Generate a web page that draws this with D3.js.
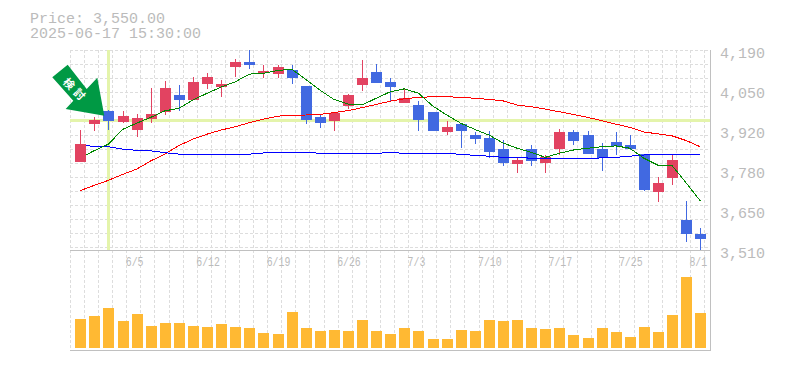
<!DOCTYPE html>
<html>
<head>
<meta charset="utf-8">
<script src="https://cdn.jsdelivr.net/npm/d3@7/dist/d3.min.js"></script>
<style>
    html, body { margin: 0; padding: 0; background: #fff; }
    svg { display: block; }
    text { font-family: "Liberation Mono", monospace; fill: #bbb; }
</style>
</head>
<body>
<div id="chart"></div>
<script>
// header text
const headerLines = ["Price: 3,550.00", "2025-06-17 15:30:00"];

// price axis labels, evenly spaced from top to bottom of the panel
const priceLabels = ["4,190", "4,050", "3,920", "3,780", "3,650", "3,510"];
const priceTicks = [4190, 4054, 3918, 3782, 3646, 3510];

// date labels and the candle they sit on
const dateLabels = ["6/5", "6/12", "6/19", "6/26", "7/3", "7/10", "7/17", "7/25", "8/1"];
const dateIndex = [4, 9, 14, 19, 24, 29, 34, 39, 44];

// marker
const markIndex = 2;
const markPrice = 3952;

// candles
const opens = [3809, 3938, 3983, 3945, 3918, 3955, 3979, 4037, 4020, 4074, 4064, 4132, 4149, 4112, 4108, 4122, 4068, 3962, 3949, 3999, 4071, 4115, 4081, 4010, 4003, 3979, 3911, 3938, 3901, 3891, 3853, 3802, 3853, 3806, 3853, 3911, 3901, 3853, 3877, 3867, 3836, 3707, 3755, 3612, 3564];
const highs = [3918, 3961, 3986, 3984, 3972, 4061, 4085, 4071, 4098, 4112, 4088, 4159, 4190, 4139, 4139, 4139, 4068, 3969, 3979, 4040, 4156, 4142, 4095, 4057, 4017, 3979, 3949, 3938, 3911, 3915, 3884, 3826, 3867, 3833, 3921, 3918, 3915, 3874, 3911, 3901, 3836, 3758, 3833, 3677, 3585];
const lows = [3809, 3916, 3918, 3942, 3895, 3943, 3969, 3984, 4020, 4057, 4030, 4098, 4125, 4095, 4095, 4074, 3938, 3925, 3915, 3989, 4051, 4078, 4013, 4010, 3915, 3915, 3901, 3857, 3870, 3823, 3796, 3772, 3796, 3772, 3833, 3867, 3836, 3779, 3833, 3850, 3711, 3673, 3731, 3537, 3510];
const closes = [3870, 3952, 3949, 3966, 3959, 3972, 4061, 4020, 4081, 4098, 4074, 4149, 4139, 4119, 4132, 4095, 3952, 3942, 3976, 4037, 4095, 4078, 4064, 4027, 3952, 3915, 3928, 3915, 3887, 3843, 3806, 3816, 3813, 3826, 3911, 3881, 3836, 3823, 3864, 3853, 3714, 3738, 3816, 3564, 3547];

// moving averages; the two shorter ones start a little before the second candle
const maStart = 0.43;
const greenLine = [3834, 3848, 3870, 3920, 3941, 3961, 3983, 3992, 4020, 4043, 4064, 4082, 4108, 4111, 4120, 4125, 4090, 4054, 4022, 4006, 4003, 4026, 4048, 4058, 4043, 4000, 3969, 3941, 3920, 3901, 3874, 3856, 3842, 3825, 3839, 3850, 3856, 3861, 3864, 3856, 3822, 3798, 3797, 3738, 3677];
const blueLine = [3864, 3863, 3861, 3853, 3849, 3847, 3841, 3836, 3835, 3835, 3835, 3835, 3836, 3840, 3841, 3843, 3842, 3839, 3839, 3839, 3839, 3839, 3841, 3839, 3839, 3839, 3839, 3835, 3832, 3829, 3825, 3825, 3822, 3822, 3822, 3822, 3822, 3823, 3825, 3829, 3833, 3836, 3836, 3836, 3836];
const redLine = [3712, 3730, 3747, 3767, 3785, 3813, 3836, 3865, 3887, 3904, 3918, 3929, 3943, 3955, 3965, 3968, 3969, 3971, 3977, 3984, 3994, 4005, 4016, 4024, 4029, 4031, 4031, 4029, 4026, 4022, 4017, 4003, 3997, 3989, 3980, 3971, 3961, 3950, 3938, 3927, 3911, 3905, 3898, 3882, 3861];

// volume bars, relative units
const volumes = [29, 32, 40, 27, 34, 22, 25, 25, 22, 21, 24, 21, 20, 15, 14, 36, 20, 17, 18, 17, 28, 17, 14, 20, 17, 9, 9, 18, 17, 28, 27, 28, 20, 19, 20, 13, 10, 20, 16, 11, 21, 16, 33, 71, 35];

const width = 785, height = 370;
const left = 70, right = 710, priceTop = 50, priceBottom = 250, volTop = 277, volBase = 348, volBottom = 350;
const frameColor = "#c0c0c0", gridColor = "#ddd", markColor = "#e4f4ab";
const upColor = "#e24361", downColor = "#4169e1", volColor = "#ffb933";

const svg = d3.select("#chart").append("svg")
    .attr("width", width)
    .attr("height", height);

const x = d3.scaleLinear().domain([0, 44]).range([80.3, 700.3]);
const y = d3.scaleLinear().domain([3510, 4190]).range([priceBottom, priceTop]);
const yVol = d3.scaleLinear().domain([0, 71]).range([volBase, volTop]);

// grid
const grid = svg.append("g")
    .attr("stroke", gridColor)
    .attr("stroke-dasharray", "3,2")
    .attr("shape-rendering", "crispEdges");

grid.selectAll(".vgrid")
    .data(d3.range(0, 46))
    .enter().append("line")
    .attr("class", "vgrid")
    .attr("x1", d => x(d - 0.7))
    .attr("x2", d => x(d - 0.7))
    .attr("y1", priceTop)
    .attr("y2", volBottom);

grid.selectAll(".hgrid")
    .data(d3.range(0, 15))
    .enter().append("line")
    .attr("class", "hgrid")
    .attr("x1", left)
    .attr("x2", right)
    .attr("y1", d => priceTop + 0.5 + d * 14.1)
    .attr("y2", d => priceTop + 0.5 + d * 14.1);

// crosshair
svg.append("line")
    .attr("x1", x(markIndex)).attr("x2", x(markIndex))
    .attr("y1", priceTop).attr("y2", priceBottom)
    .attr("stroke", markColor).attr("stroke-width", 3)
    .attr("shape-rendering", "crispEdges");
svg.append("line")
    .attr("x1", left).attr("x2", right)
    .attr("y1", y(markPrice)).attr("y2", y(markPrice))
    .attr("stroke", markColor).attr("stroke-width", 3)
    .attr("shape-rendering", "crispEdges");

// frame
const frame = svg.append("g")
    .attr("stroke", frameColor)
    .attr("shape-rendering", "crispEdges");
frame.append("line").attr("x1", left).attr("x2", right + 0.5).attr("y1", priceBottom + 0.5).attr("y2", priceBottom + 0.5);
frame.append("line").attr("x1", left).attr("x2", right + 0.5).attr("y1", volBottom + 0.5).attr("y2", volBottom + 0.5);
frame.append("line").attr("x1", right + 0.5).attr("x2", right + 0.5).attr("y1", priceTop).attr("y2", volBottom + 0.5);

// volume
svg.selectAll(".vol")
    .data(volumes)
    .enter().append("rect")
    .attr("class", "vol")
    .attr("x", (d, i) => Math.round(x(i)) - 5)
    .attr("y", d => yVol(d))
    .attr("width", 11)
    .attr("height", d => volBase - yVol(d))
    .attr("fill", volColor)
    .attr("shape-rendering", "crispEdges");

// candles
const candles = svg.selectAll(".candle")
    .data(opens.map((o, i) => ({i: i, open: o, high: highs[i], low: lows[i], close: closes[i]})))
    .enter().append("g")
    .attr("class", "candle")
    .attr("shape-rendering", "crispEdges");

candles.append("line")
    .attr("x1", d => Math.round(x(d.i)) + 0.5)
    .attr("x2", d => Math.round(x(d.i)) + 0.5)
    .attr("y1", d => y(d.high))
    .attr("y2", d => y(d.low))
    .attr("stroke", d => d.close >= d.open ? upColor : downColor);

candles.append("rect")
    .attr("x", d => Math.round(x(d.i)) - 5)
    .attr("y", d => y(Math.max(d.open, d.close)))
    .attr("width", 11)
    .attr("height", d => Math.abs(y(d.open) - y(d.close)))
    .attr("fill", d => d.close >= d.open ? upColor : downColor);

// moving averages
const lineGen = d3.line().x(d => x(d.i)).y(d => y(d.v));
const toPoints = (values, start) => values.map((v, i) => ({i: i === 0 ? start : i, v: v}));

[[redLine, "#f00", 0], [blueLine, "#00f", maStart], [greenLine, "#080", maStart]].forEach(s => {
    svg.append("path")
        .attr("d", lineGen(toPoints(s[0], s[2])))
        .attr("fill", "none")
        .attr("stroke", s[1])
        .attr("stroke-width", 1)
        .attr("shape-rendering", "crispEdges");
});

// arrow marker pointing at the crosshair candle
const arrow = svg.append("g")
    .attr("transform", "translate(" + (x(markIndex) - 4.2) + "," + (y(markPrice) - 4.3) + ")");
arrow.append("polygon")
    .attr("points", "0,0 -38.6,-6.7 -31,-15 -52,-38.4 -36.6,-51 -17.6,-26.7 -7,-38")
    .attr("fill", "#009944");
arrow.append("text")
    .attr("transform", "translate(-28,-26) rotate(45)")
    .attr("text-anchor", "middle")
    .attr("dominant-baseline", "central")
    .style("font-family", "'Noto Sans CJK JP'")
    .style("font-size", "11px")
    .style("font-weight", "700")
    .style("letter-spacing", "4px")
    .style("fill", "#fff")
    .text("検討");

// text
svg.selectAll(".header")
    .data(headerLines)
    .enter().append("text")
    .attr("class", "header")
    .attr("x", 30)
    .attr("y", (d, i) => 23 + i * 15)
    .style("font-size", "15px")
    .text(d => d);

svg.selectAll(".pricelabel")
    .data(priceLabels)
    .enter().append("text")
    .attr("class", "pricelabel")
    .attr("x", 720)
    .attr("y", (d, i) => y(priceTicks[i]) + 8)
    .style("font-size", "15px")
    .text(d => d);

svg.selectAll(".datelabel")
    .data(dateLabels)
    .enter().append("text")
    .attr("class", "datelabel")
    .attr("x", (d, i) => x(dateIndex[i] - 0.7) - 1)
    .attr("y", 266)
    .attr("textLength", d => d.length * 5.9)
    .attr("lengthAdjust", "spacingAndGlyphs")
    .style("font-size", "12px")
    .text(d => d);
</script>
</body>
</html>
